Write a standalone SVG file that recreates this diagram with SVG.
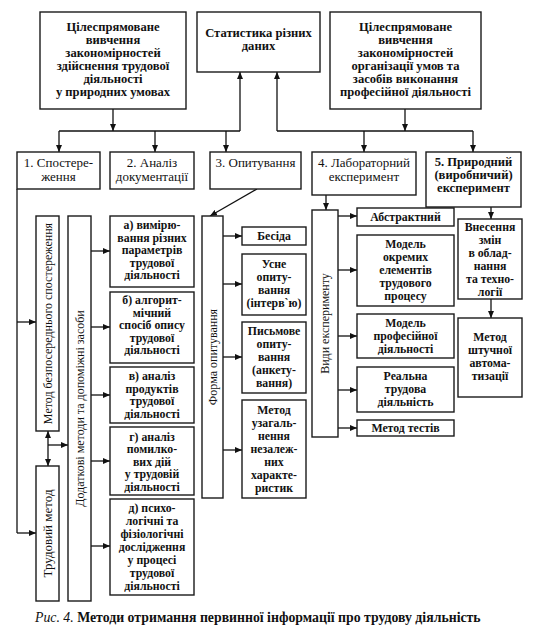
<svg xmlns="http://www.w3.org/2000/svg" width="537" height="635" viewBox="0 0 537 635" font-family="'Liberation Serif', 'DejaVu Serif', serif">
<defs>
<marker id="ah" markerWidth="7" markerHeight="6" refX="7" refY="3" orient="auto" markerUnits="userSpaceOnUse"><path d="M0,0 L7,3 L0,6 Z" fill="#111"/></marker>
</defs>
<style>
rect{fill:#fff;stroke:#1a1a1a;stroke-width:1.4}
text{font-family:'Liberation Serif','DejaVu Serif',serif;fill:#111;text-anchor:middle}
.b{font-weight:bold;font-size:11.8px}
.t{font-weight:bold;font-size:12.6px}
.r{font-size:13px}
.v{font-size:12px}
#conn line{stroke:#111;stroke-width:1.3;fill:none}
.a{marker-end:url(#ah)}
</style>
<rect x="0" y="0" width="537" height="635" style="fill:#fff;stroke:none"/>

<g id="conn">
<line class="a" x1="113" y1="109" x2="113" y2="131"/>
<line x1="59" y1="131" x2="240" y2="131"/>
<line class="a" x1="59" y1="131" x2="59" y2="152"/>
<line class="a" x1="155" y1="131" x2="155" y2="152"/>
<line class="a" x1="226" y1="131" x2="226" y2="152"/>
<line class="a" x1="240" y1="131" x2="240" y2="72"/>
<line class="a" x1="277" y1="131" x2="277" y2="72"/>
<line x1="277" y1="131" x2="473" y2="131"/>
<line class="a" x1="405" y1="109" x2="405" y2="131"/>
<line class="a" x1="364" y1="131" x2="364" y2="152"/>
<line class="a" x1="473" y1="131" x2="473" y2="152"/>
<line x1="17" y1="189" x2="17" y2="533"/>
<line class="a" x1="17" y1="322" x2="36" y2="322"/>
<line class="a" x1="17" y1="533" x2="36" y2="533"/>
<line class="a" x1="48" y1="445" x2="48" y2="466"/>
<line class="a" x1="48" y1="445" x2="48" y2="431"/>
<line class="a" x1="48" y1="445" x2="68" y2="445"/>
<line class="a" x1="91" y1="251" x2="110" y2="251"/>
<line class="a" x1="91" y1="327" x2="110" y2="327"/>
<line class="a" x1="91" y1="395" x2="110" y2="395"/>
<line class="a" x1="91" y1="461" x2="110" y2="461"/>
<line class="a" x1="91" y1="546" x2="110" y2="546"/>
<line class="a" x1="257" y1="189" x2="210" y2="216"/>
<line class="a" x1="223" y1="236" x2="242" y2="236"/>
<line class="a" x1="223" y1="284" x2="242" y2="284"/>
<line class="a" x1="223" y1="357" x2="242" y2="357"/>
<line class="a" x1="223" y1="450" x2="242" y2="450"/>
<line class="a" x1="326" y1="195" x2="326" y2="210"/>
<line class="a" x1="338" y1="216" x2="357" y2="216"/>
<line class="a" x1="338" y1="270" x2="357" y2="270"/>
<line class="a" x1="338" y1="336" x2="357" y2="336"/>
<line class="a" x1="338" y1="390" x2="357" y2="390"/>
<line class="a" x1="338" y1="428" x2="357" y2="428"/>
<line class="a" x1="491" y1="207" x2="491" y2="219"/>
<line class="a" x1="491" y1="299" x2="491" y2="318"/>
</g>

<g id="topA"><rect x="40" y="12" width="146" height="97"/>
<text class="t" x="113" y="31">Цілеспрямоване</text><text class="t" x="113" y="44">вивчення</text><text class="t" x="113" y="57">закономірностей</text><text class="t" x="113" y="70">здійснення трудової</text><text class="t" x="113" y="83">діяльності</text><text class="t" x="113" y="96">у природних умовах</text></g>

<g id="topB"><rect x="197" y="12" width="123" height="60"/>
<text class="t" x="258.5" y="37">Статистика різних</text><text class="t" x="258.5" y="50">даних</text></g>

<g id="topC"><rect x="330" y="12" width="151" height="97"/>
<text class="t" x="405.5" y="31">Цілеспрямоване</text><text class="t" x="405.5" y="44">вивчення</text><text class="t" x="405.5" y="57">закономірностей</text><text class="t" x="405.5" y="70">організації умов та</text><text class="t" x="405.5" y="83">засобів виконання</text><text class="t" x="405.5" y="96">професійної діяльності</text></g>

<g id="m1"><rect x="17" y="152" width="83" height="37"/>
<text class="r" x="58.5" y="167">1. Спостере-</text><text class="r" x="58.5" y="181">ження</text></g>
<g id="m2"><rect x="110" y="152" width="84" height="37"/>
<text class="r" x="152" y="167">2. Аналіз</text><text class="r" x="152" y="181">документації</text></g>
<g id="m3"><rect x="210" y="152" width="91" height="37"/>
<text class="r" x="255.5" y="167">3. Опитування</text></g>
<g id="m4"><rect x="312" y="152" width="104" height="43"/>
<text class="r" x="364" y="167">4. Лабораторний</text><text class="r" x="364" y="181">експеримент</text></g>
<g id="m5"><rect x="426" y="152" width="95" height="55"/>
<text class="t" x="473.5" y="166">5. Природний</text><text class="t" x="473.5" y="179">(виробничий)</text><text class="t" x="473.5" y="192">експеримент</text></g>

<g id="v1"><rect x="36" y="216" width="23" height="215"/>
<text class="v" transform="translate(52,323.5) rotate(-90)">Метод безпосереднього спостереження</text></g>
<g id="v2"><rect x="36" y="466" width="23" height="135"/>
<text class="r" transform="translate(52,533.5) rotate(-90)">Трудовий метод</text></g>
<g id="v3"><rect x="68" y="216" width="23" height="385"/>
<text class="v" transform="translate(84,408.5) rotate(-90)">Додаткові методи та допоміжні засоби</text></g>

<g id="sa"><rect x="110" y="216" width="84" height="71"/>
<text class="b" x="152" y="229">а) вимірю-</text><text class="b" x="152" y="241.5">вання різних</text><text class="b" x="152" y="254">параметрів</text><text class="b" x="152" y="266.5">трудової</text><text class="b" x="152" y="279">діяльності</text></g>
<g id="sb"><rect x="110" y="292" width="84" height="71"/>
<text class="b" x="152" y="304">б) алгорит-</text><text class="b" x="152" y="316.5">мічний</text><text class="b" x="152" y="329">спосіб опису</text><text class="b" x="152" y="341.5">трудової</text><text class="b" x="152" y="354">діяльності</text></g>
<g id="sv"><rect x="110" y="367" width="84" height="56"/>
<text class="b" x="152" y="380">в) аналіз</text><text class="b" x="152" y="392.5">продуктів</text><text class="b" x="152" y="405">трудової</text><text class="b" x="152" y="417.5">діяльності</text></g>
<g id="sg"><rect x="110" y="427" width="84" height="68"/>
<text class="b" x="152" y="440.5">г) аналіз</text><text class="b" x="152" y="453">помилко-</text><text class="b" x="152" y="465.5">вих дій</text><text class="b" x="152" y="478">у трудовій</text><text class="b" x="152" y="490.5">діяльності</text></g>
<g id="sd"><rect x="110" y="499" width="84" height="96"/>
<text class="b" x="152" y="512">д) психо-</text><text class="b" x="152" y="525">логічні та</text><text class="b" x="152" y="538">фізіологічні</text><text class="b" x="152" y="551">дослідження</text><text class="b" x="152" y="564">у процесі</text><text class="b" x="152" y="577">трудової</text><text class="b" x="152" y="590">діяльності</text></g>

<g id="forma"><rect x="202" y="216" width="21" height="282"/>
<text class="v" transform="translate(217,357) rotate(-90)">Форма опитування</text></g>
<g id="f1"><rect x="242" y="227" width="64" height="18"/>
<text class="b" x="274" y="240">Бесіда</text></g>
<g id="f2"><rect x="242" y="254" width="64" height="61"/>
<text class="b" x="274" y="268">Усне</text><text class="b" x="274" y="281">опиту-</text><text class="b" x="274" y="294">вання</text><text class="b" x="274" y="307">(інтерв`ю)</text></g>
<g id="f3"><rect x="242" y="322" width="64" height="71"/>
<text class="b" x="274" y="335">Письмове</text><text class="b" x="274" y="348">опиту-</text><text class="b" x="274" y="361">вання</text><text class="b" x="274" y="374">(анкету-</text><text class="b" x="274" y="387">вання)</text></g>
<g id="f4"><rect x="242" y="400" width="64" height="98"/>
<text class="b" x="274" y="414">Метод</text><text class="b" x="274" y="427">узагаль-</text><text class="b" x="274" y="440">нення</text><text class="b" x="274" y="453">незалеж-</text><text class="b" x="274" y="466">них</text><text class="b" x="274" y="479">характе-</text><text class="b" x="274" y="492">ристик</text></g>

<g id="vydy"><rect x="312" y="210" width="26" height="227"/>
<text class="v" transform="translate(329,323.5) rotate(-90)">Види експерименту</text></g>
<g id="e1"><rect x="357" y="208" width="97" height="18"/>
<text class="b" x="405.5" y="221">Абстрактний</text></g>
<g id="e2"><rect x="357" y="235" width="97" height="71"/>
<text class="b" x="405.5" y="248">Модель</text><text class="b" x="405.5" y="261">окремих</text><text class="b" x="405.5" y="274">елементів</text><text class="b" x="405.5" y="287">трудового</text><text class="b" x="405.5" y="300">процесу</text></g>
<g id="e3"><rect x="357" y="314" width="97" height="44"/>
<text class="b" x="405.5" y="327">Модель</text><text class="b" x="405.5" y="340">професійної</text><text class="b" x="405.5" y="353">діяльності</text></g>
<g id="e4"><rect x="357" y="367" width="97" height="45"/>
<text class="b" x="405.5" y="380">Реальна</text><text class="b" x="405.5" y="393">трудова</text><text class="b" x="405.5" y="406">діяльність</text></g>
<g id="e5"><rect x="357" y="420" width="97" height="16"/>
<text class="b" x="405.5" y="432">Метод тестів</text></g>

<g id="n1"><rect x="458" y="219" width="64" height="80"/>
<text class="b" x="490" y="231">Внесення</text><text class="b" x="490" y="244">змін</text><text class="b" x="490" y="257">в облад-</text><text class="b" x="490" y="270">нання</text><text class="b" x="490" y="283">та техно-</text><text class="b" x="490" y="296">логії</text></g>
<g id="n2"><rect x="458" y="318" width="64" height="79"/>
<text class="b" x="490" y="341">Метод</text><text class="b" x="490" y="354">штучної</text><text class="b" x="490" y="367">автома-</text><text class="b" x="490" y="380">тизації</text></g>

<g id="caption"><text x="35" y="622" style="text-anchor:start;font-size:13.8px"><tspan font-style="italic">Рис. 4.</tspan> <tspan font-weight="bold">Методи отримання первинної інформації про трудову діяльність</tspan></text></g>
</svg>
